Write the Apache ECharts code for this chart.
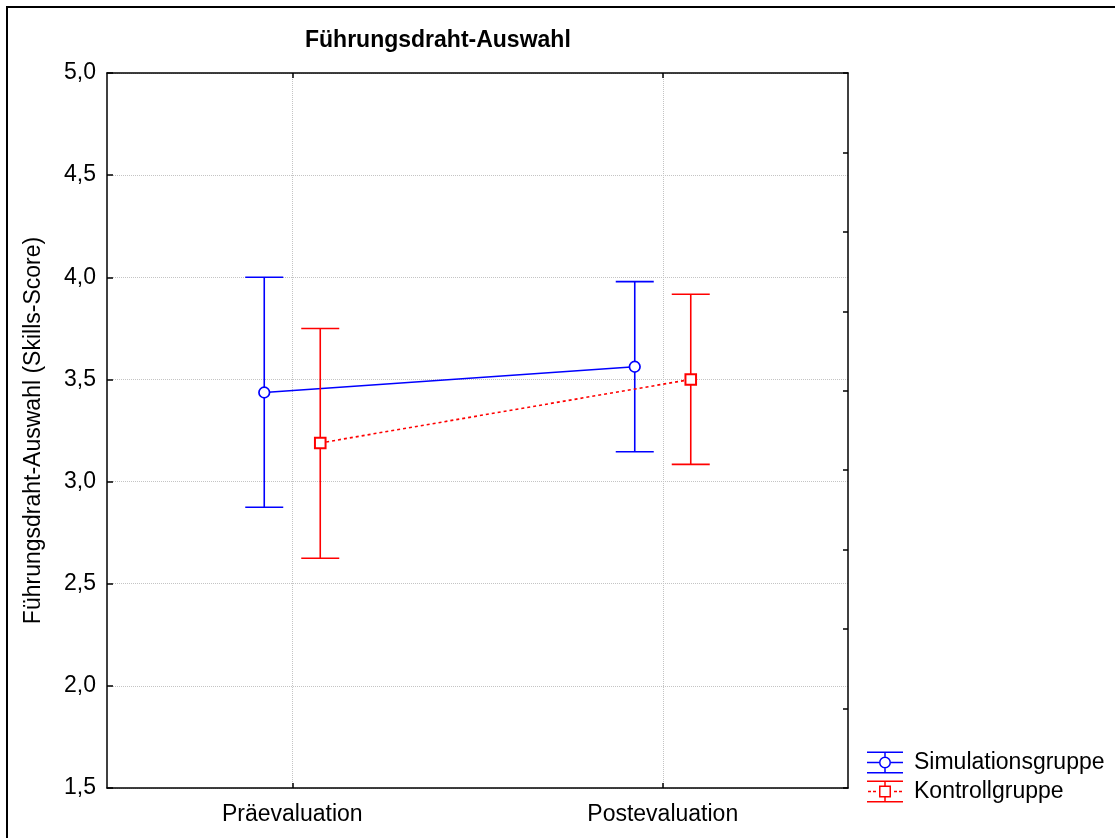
<!DOCTYPE html>
<html>
<head>
<meta charset="utf-8">
<script src="https://cdn.jsdelivr.net/npm/echarts@6/dist/echarts.min.js"></script>
<style>
html,body{margin:0;padding:0;background:#fff}
#main{width:1115px;height:838px}
</style>
</head>
<body>
<div id="main"></div>
<script>
// Werte (Mittelwert + Konfidenzintervall)
var categories = ['Präevaluation', 'Postevaluation'];
var simMean = [3.436, 3.562];
var simLow = [2.874, 3.146];
var simHigh = [4.000, 3.979];
var konMean = [3.189, 3.500];
var konLow = [2.625, 3.084];
var konHigh = [3.749, 3.917];
var yMin = 1.5, yMax = 5.0, yStep = 0.5;
var seriesNames = ['Simulationsgruppe', 'Kontrollgruppe'];

var FONT = "'Liberation Sans', Arial, sans-serif";
var FS = 23;
var BLUE = '#0000ff';
var RED = '#ff0000';

// Legenden-Symbole (Fehlerbalken mit Marker)
var blueIcon = 'path://M0 0H36V1.5H0Z M0 20.5H36V22H0Z M0 10.25H12V11.75H0Z M24 10.25H36V11.75H24Z'
    + ' M17.25 1.5H18.75V5H17.25Z M17.25 17H18.75V20.5H17.25Z'
    + ' M24 11A6 6 0 1 0 12 11A6 6 0 1 0 24 11Z M22.5 11A4.5 4.5 0 1 1 13.5 11A4.5 4.5 0 1 1 22.5 11Z';
var redIcon = 'path://M0 0H36V1.5H0Z M0 20.5H36V22H0Z'
    + ' M1 10.25H4V11.75H1Z M6 10.25H9V11.75H6Z M27 10.25H30V11.75H27Z M32 10.25H35V11.75H32Z'
    + ' M17.25 1.5H18.75V5H17.25Z M17.25 17H18.75V20.5H17.25Z'
    + ' M12 5H24V17H12Z M13.5 6.5V15.5H22.5V6.5Z';

function buildData(mean, low, high) {
    var out = [];
    for (var i = 0; i < mean.length; i++) {
        out.push([i, mean[i], low[i], high[i]]);
    }
    return out;
}

function errorBarRenderer(offset, color, marker, dashed) {
    return function (params, api) {
        var i = params.dataIndexInside;
        var cat = api.value(0);
        var pt = api.coord([cat, api.value(1)]);
        var lo = api.coord([cat, api.value(2)]);
        var hi = api.coord([cat, api.value(3)]);
        var x = pt[0] + offset;
        var capHalf = 19;
        var children = [];
        if (i < params.dataInsideLength - 1) {
            var nx = api.coord([api.value(0, i + 1), api.value(1, i + 1)]);
            children.push({
                type: 'line',
                shape: {x1: x, y1: pt[1], x2: nx[0] + offset, y2: nx[1]},
                style: {stroke: color, lineWidth: 1.6, lineDash: dashed ? [3, 3] : null}
            });
        }
        children.push({type: 'line', shape: {x1: x, y1: lo[1], x2: x, y2: hi[1]},
            style: {stroke: color, lineWidth: 1.6}});
        children.push({type: 'line', shape: {x1: x - capHalf, y1: hi[1], x2: x + capHalf, y2: hi[1]},
            style: {stroke: color, lineWidth: 1.6}});
        children.push({type: 'line', shape: {x1: x - capHalf, y1: lo[1], x2: x + capHalf, y2: lo[1]},
            style: {stroke: color, lineWidth: 1.6}});
        if (marker === 'circle') {
            children.push({type: 'circle', shape: {cx: x, cy: pt[1], r: 5.3},
                style: {fill: '#fff', stroke: color, lineWidth: 1.7}});
        } else {
            children.push({type: 'rect', shape: {x: x - 5.3, y: pt[1] - 5.3, width: 10.6, height: 10.6},
                style: {fill: '#fff', stroke: color, lineWidth: 2}});
        }
        return {type: 'group', children: children};
    };
}

var myChart = echarts.init(document.getElementById('main'));

var option = {
    backgroundColor: '#fff',
    animation: false,
    textStyle: {fontFamily: FONT, color: '#000'},
    title: {
        text: 'Führungsdraht-Auswahl',
        left: 305,
        top: 29,
        padding: 0,
        textStyle: {fontFamily: FONT, fontSize: FS, fontWeight: 'bold', color: '#000'}
    },
    graphic: [{
        type: 'rect',
        shape: {x: 7, y: 7, width: 1200, height: 1000},
        style: {fill: null, stroke: '#000', lineWidth: 2},
        silent: true
    }],
    legend: {
        orient: 'vertical',
        left: 867,
        top: 751,
        padding: 0,
        itemWidth: 36,
        itemHeight: 22,
        itemGap: 6,
        itemStyle: {borderWidth: 0},
        textStyle: {fontFamily: FONT, fontSize: FS, color: '#000', padding: [0, 0, 0, 6]},
        data: [
            {name: seriesNames[0], icon: blueIcon},
            {name: seriesNames[1], icon: redIcon}
        ]
    },
    grid: {left: 107, top: 73, right: 267, bottom: 50, containLabel: false},
    xAxis: [{
        type: 'category',
        position: 'bottom',
        data: categories,
        boundaryGap: true,
        axisLine: {show: true, lineStyle: {color: '#000', width: 1.5}},
        axisTick: {show: true, inside: true, alignWithLabel: true, length: 5, lineStyle: {color: '#000', width: 1.5}},
        axisLabel: {fontFamily: FONT, fontSize: FS, color: '#000', margin: 15},
        splitLine: {show: true, alignWithLabel: true, lineStyle: {color: '#c4c4c4', type: 'dotted', width: 1}}
    }, {
        type: 'category',
        position: 'top',
        data: categories,
        boundaryGap: true,
        axisLine: {show: true, lineStyle: {color: '#000', width: 1.5}},
        axisTick: {show: true, inside: true, alignWithLabel: true, length: 5, lineStyle: {color: '#000', width: 1.5}},
        axisLabel: {show: false},
        splitLine: {show: false}
    }],
    yAxis: [{
        type: 'value',
        position: 'left',
        min: yMin,
        max: yMax,
        interval: yStep,
        name: 'Führungsdraht-Auswahl (Skills-Score)',
        nameLocation: 'middle',
        nameGap: 62,
        nameTextStyle: {fontFamily: FONT, fontSize: FS, color: '#000'},
        axisLine: {show: true, lineStyle: {color: '#000', width: 1.5}},
        axisTick: {show: true, inside: true, length: 6, lineStyle: {color: '#000', width: 1.5}},
        axisLabel: {
            fontFamily: FONT, fontSize: FS, color: '#000', margin: 11,
            formatter: function (v) { return v.toFixed(1).replace('.', ','); }
        },
        splitLine: {show: true, lineStyle: {color: '#c4c4c4', type: 'dotted', width: 1}}
    }, {
        type: 'value',
        position: 'right',
        min: 0,
        max: 9,
        interval: 1,
        axisLine: {show: true, lineStyle: {color: '#000', width: 1.5}},
        axisTick: {show: true, inside: true, length: 5, lineStyle: {color: '#000', width: 1.5}},
        axisLabel: {show: false},
        splitLine: {show: false}
    }],
    series: [{
        name: seriesNames[0],
        type: 'custom',
        xAxisIndex: 0,
        yAxisIndex: 0,
        itemStyle: {color: BLUE},
        renderItem: errorBarRenderer(-28, BLUE, 'circle', false),
        data: buildData(simMean, simLow, simHigh)
    }, {
        name: seriesNames[1],
        type: 'custom',
        xAxisIndex: 0,
        yAxisIndex: 0,
        itemStyle: {color: RED},
        renderItem: errorBarRenderer(28, RED, 'rect', true),
        data: buildData(konMean, konLow, konHigh)
    }]
};

myChart.setOption(option);
</script>
</body>
</html>
